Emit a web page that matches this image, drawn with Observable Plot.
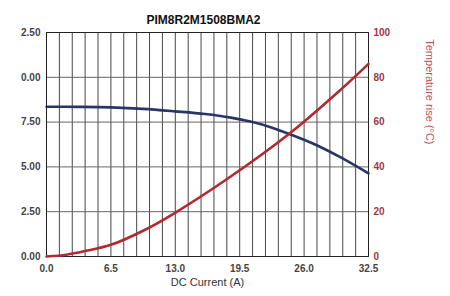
<!DOCTYPE html>
<html><head><meta charset="utf-8">
<script src="https://cdn.jsdelivr.net/npm/d3@7"></script>
<script src="https://cdn.jsdelivr.net/npm/@observablehq/plot@0.6"></script>
<style>body{margin:0;background:#fff;font-family:"Liberation Sans",Arial,sans-serif}</style>
</head><body><div id="chart"></div>
<script>
const title = "PIM8R2M1508BMA2";
const xLabel = "DC Current (A)";
const rightLabel = "Temperature rise (°C)";
const current = [0, 3.25, 6.5, 9.75, 13, 16, 18.6, 20.8, 22.7, 24.5, 27, 29.7, 32.5];
const torque  = [8.36, 8.35, 8.32, 8.24, 8.1, 7.95, 7.75, 7.5, 7.2, 6.84, 6.28, 5.53, 4.64];
const tempX   = [0, 2, 3.8, 6.5, 9.75, 12.9, 18.3, 24.5, 29.7, 32.5];
const tempRise= [0, 0.8, 2.3, 5.2, 11.5, 19.3, 34.8, 54.8, 74.5, 86];
const xTicks = [0, 6.5, 13, 19.5, 26, 32.5];
const xTickLabels = ["0.0", "6.5", "13.0", "19.5", "26.0", "32.5"];
const leftTicks = [0, 2.5, 5, 7.5, 10, 12.5];
const leftTickLabels = ["0.00", "2.50", "5.00", "7.50", "0.00", "2.50"];
const rightTicks = [0, 20, 40, 60, 80, 100];
const xGrid = d3.range(0, 26).map(i => i * 1.3);

const k = 12.5 / 100;
const blueData = current.map((c, i) => ({x: c, y: torque[i]}));
const redData = tempX.map((c, i) => ({x: c, y: tempRise[i] * k}));

const chart = Plot.plot({
  width: 450, height: 296,
  marginLeft: 46, marginRight: 82, marginTop: 32, marginBottom: 40,
  style: {fontFamily: "'Liberation Sans', Arial, sans-serif", background: "#fff"},
  x: {domain: [0, 32.5]},
  y: {domain: [0, 12.5]},
  marks: [
    Plot.ruleX(xGrid, {stroke: "#333", strokeWidth: 1, strokeOpacity: 0.9}),
    Plot.ruleY(leftTicks, {stroke: "#666", strokeWidth: 1}),
    Plot.frame({stroke: "#222"}),
    Plot.axisX(xTicks, {tickSize: 0, tickPadding: 8, tickFormat: (d, i) => xTickLabels[i], fontWeight: "bold", fill: "#444", fontSize: 10, label: null}),
    Plot.axisY(leftTicks, {anchor: "left", tickSize: 0, tickPadding: 6, tickFormat: (d, i) => leftTickLabels[i], fontWeight: "bold", fill: "#444", fontSize: 10, label: null}),
    Plot.axisY(rightTicks.map(t => t * k), {anchor: "right", tickSize: 0, tickPadding: 5, tickFormat: (d, i) => String(rightTicks[i]), fontWeight: "bold", fill: "#a03848", fontSize: 10, label: null}),
    Plot.line(blueData, {x: "x", y: "y", stroke: "#2b3466", strokeWidth: 2.6, curve: "catmull-rom"}),
    Plot.line(redData, {x: "x", y: "y", stroke: "#b02a30", strokeWidth: 2.6, curve: "catmull-rom"}),
    Plot.text([title], {frameAnchor: "top", dy: -17, dx: -4, fontWeight: "bold", fontSize: 12, fill: "#111"}),
    Plot.text([xLabel], {frameAnchor: "bottom", dy: 29, fontSize: 11, fill: "#333"}),
    Plot.text([rightLabel], {frameAnchor: "right", dx: 61, rotate: 90, fontSize: 11, fill: "#c0505a"})
  ]
});
document.getElementById("chart").appendChild(chart);
</script>
</body></html>
